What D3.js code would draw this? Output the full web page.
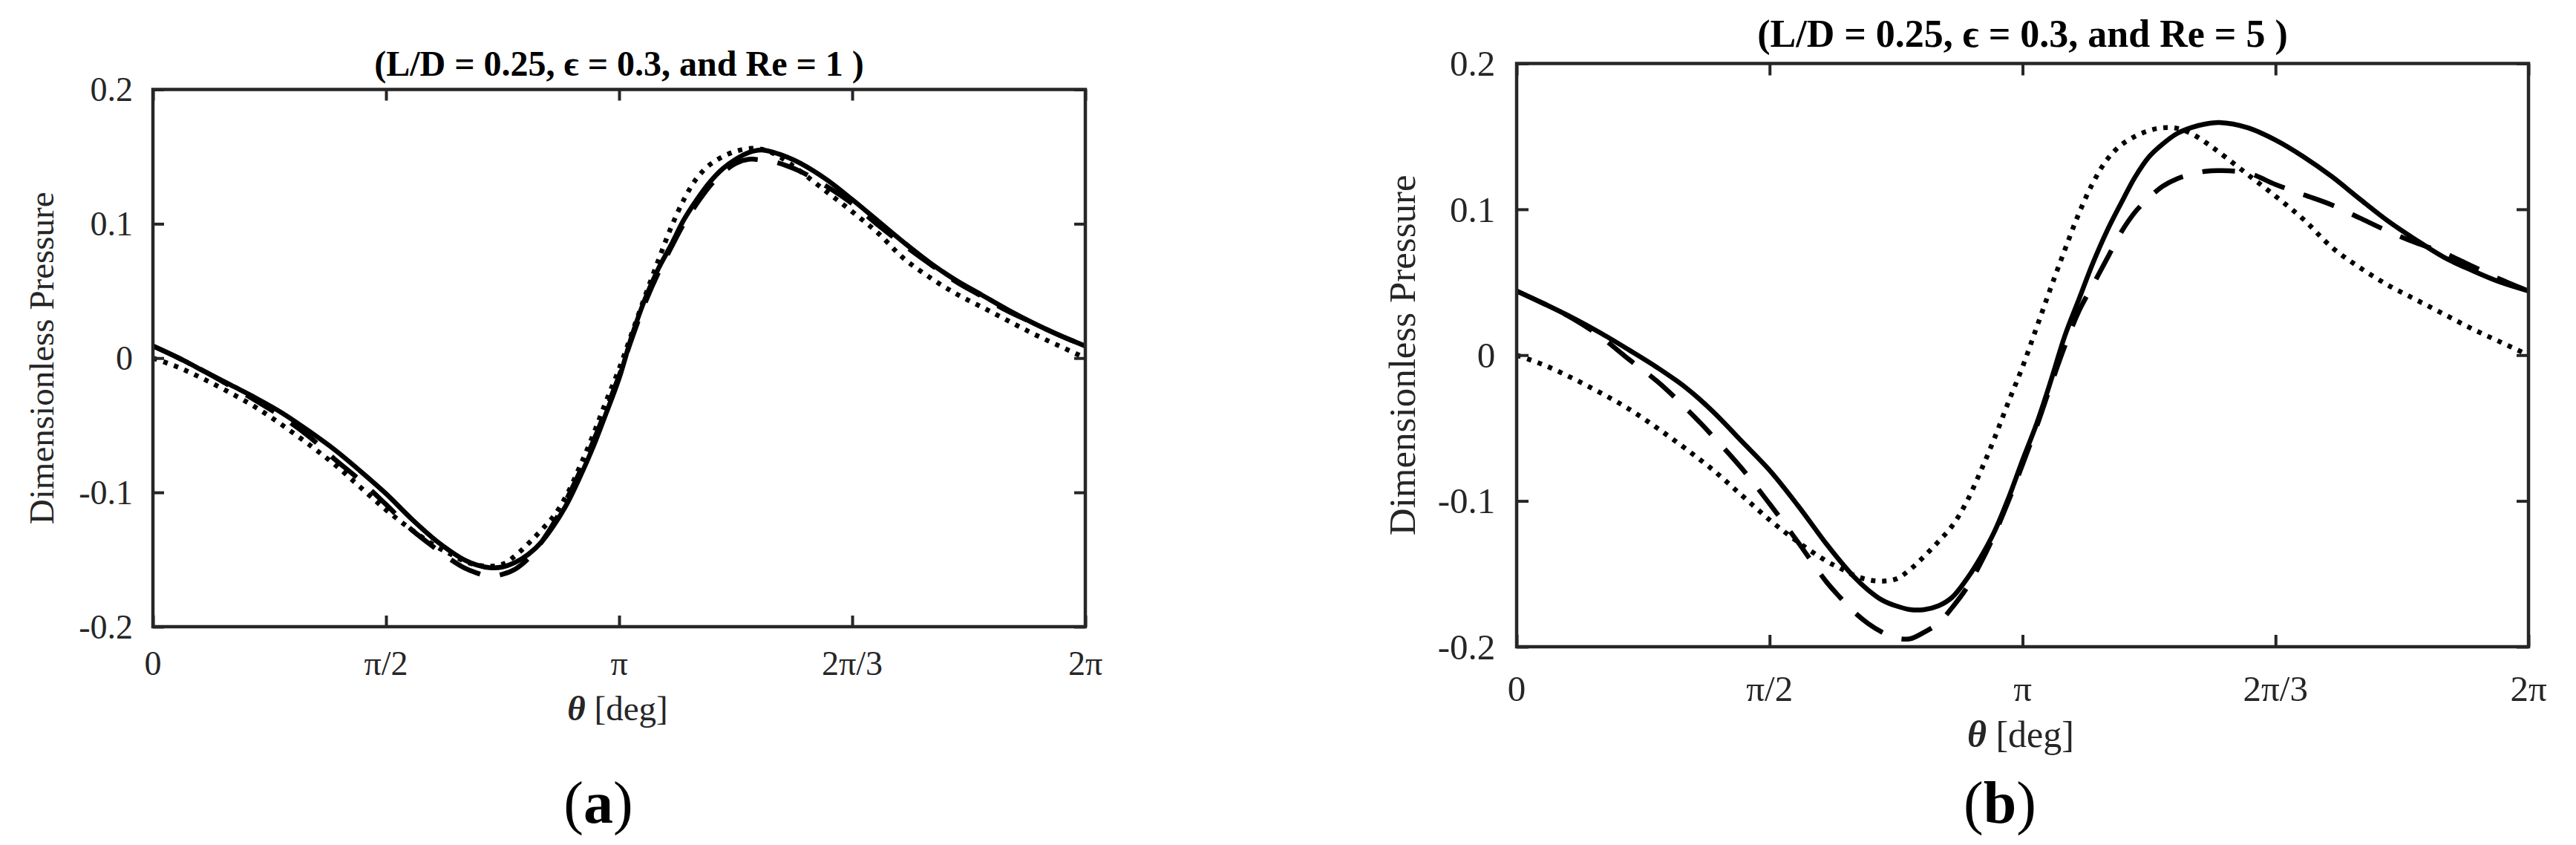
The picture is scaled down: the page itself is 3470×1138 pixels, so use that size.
<!DOCTYPE html>
<html>
<head>
<meta charset="utf-8">
<script src="https://cdn.jsdelivr.net/npm/d3@7"></script>
<style>
  html, body { margin: 0; padding: 0; background: #fff; }
  svg { display: block; }
  text { font-family: "Liberation Serif", "Times New Roman", "DejaVu Serif", serif; fill: #262626; }
</style>
</head>
<body>
<svg id="chart" width="3470" height="1138"></svg>
<script>
// ---- data (theta in degrees, dimensionless pressure) ----
const theta = [0,10,20,30,40,50,60,70,80,90,100,110,115,120,125,130,135,140,145,150,155,160,165,170,175,180,185,190,195,200,205,210,215,220,225,230,235,240,245,250,260,270,280,290,300,310,320,330,340,350,360];

// Panel (a): L/D = 0.25, eps = 0.3, Re = 1
const solidA  = [0.009,0.000,-0.010,-0.020,-0.030,-0.041,-0.054,-0.068,-0.084,-0.101,-0.120,-0.137,-0.144,-0.150,-0.154,-0.156,-0.1555,-0.152,-0.146,-0.137,-0.124,-0.108,-0.088,-0.066,-0.041,-0.015,0.017,0.044,0.066,0.084,0.103,0.118,0.131,0.141,0.148,0.153,0.155,0.153,0.1495,0.145,0.133,0.118,0.102,0.086,0.071,0.058,0.047,0.036,0.026,0.017,0.009];
const dashedA = [0.009,0.000,-0.010,-0.021,-0.032,-0.044,-0.058,-0.075,-0.091,-0.109,-0.128,-0.143,-0.150,-0.156,-0.160,-0.1625,-0.161,-0.157,-0.149,-0.137,-0.122,-0.104,-0.084,-0.062,-0.038,-0.013,0.015,0.041,0.063,0.082,0.100,0.115,0.128,0.138,0.145,0.148,0.1475,0.146,0.143,0.139,0.128,0.115,0.099,0.084,0.070,0.057,0.046,0.035,0.026,0.017,0.009];
const dottedA = [0.000,-0.007,-0.016,-0.026,-0.037,-0.050,-0.064,-0.079,-0.096,-0.113,-0.128,-0.141,-0.146,-0.151,-0.154,-0.155,-0.1535,-0.147,-0.138,-0.128,-0.117,-0.101,-0.080,-0.057,-0.032,-0.008,0.019,0.046,0.072,0.097,0.118,0.134,0.144,0.150,0.154,0.156,0.1555,0.152,0.146,0.139,0.124,0.109,0.093,0.074,0.060,0.048,0.038,0.028,0.018,0.009,0.000];

// Panel (b): L/D = 0.25, eps = 0.3, Re = 5
const solidB  = [0.044,0.035,0.0255,0.015,0.0035,-0.0085,-0.022,-0.039,-0.059,-0.079,-0.103,-0.129,-0.141,-0.152,-0.161,-0.168,-0.172,-0.1745,-0.1745,-0.172,-0.166,-0.154,-0.139,-0.121,-0.098,-0.072,-0.047,-0.018,0.013,0.038,0.063,0.085,0.104,0.122,0.136,0.145,0.152,0.156,0.1585,0.1595,0.156,0.1475,0.136,0.1225,0.107,0.092,0.079,0.067,0.058,0.050,0.044];
const dashedB = [0.044,0.035,0.025,0.0125,-0.003,-0.018,-0.036,-0.056,-0.0775,-0.102,-0.128,-0.155,-0.166,-0.176,-0.184,-0.190,-0.194,-0.1945,-0.190,-0.184,-0.173,-0.160,-0.143,-0.123,-0.100,-0.075,-0.049,-0.021,0.006,0.030,0.048,0.066,0.084,0.098,0.108,0.116,0.121,0.124,0.126,0.1265,0.125,0.117,0.110,0.103,0.094,0.085,0.077,0.070,0.061,0.052,0.044];
const dottedB = [0.000,-0.007,-0.016,-0.026,-0.037,-0.050,-0.064,-0.079,-0.096,-0.113,-0.128,-0.141,-0.146,-0.151,-0.154,-0.155,-0.1535,-0.147,-0.138,-0.128,-0.117,-0.101,-0.080,-0.057,-0.032,-0.008,0.019,0.046,0.072,0.097,0.118,0.134,0.144,0.150,0.154,0.156,0.1555,0.152,0.146,0.139,0.124,0.109,0.093,0.074,0.060,0.048,0.038,0.028,0.018,0.009,0.000];

const xTickValues = [0, 90, 180, 270, 360];
const xTickLabels = ["0", "\u03C0/2", "\u03C0", "2\u03C0/3", "2\u03C0"];
const yTickValues = [-0.2, -0.1, 0, 0.1, 0.2];
const yTickLabels = ["-0.2", "-0.1", "0", "0.1", "0.2"];

const titles = ["(L/D = 0.25, \u03F5 = 0.3, and Re = 1 )", "(L/D = 0.25, \u03F5 = 0.3, and Re = 5 )"];
const yLabel = "Dimensionless Pressure";
const panelLetters = ["a", "b"];

// ---- layout ----
const panels = [
  { left: 206, right: 1462, top: 120.5, bottom: 844, series: [solidA, dashedA, dottedA],
    fs: 46, titleFs: 48, titleY: 102, yLabX: 72, yLabFs: 47, xTickY: 909, xLabY: 970, xLabX: 832, xLabFs: 47,
    letterX: 806, letterY: 1108, tick: 15, title: titles[0], letter: panelLetters[0] },
  { left: 2043, right: 3406, top: 85.5, bottom: 871, series: [solidB, dashedB, dottedB],
    fs: 49, titleFs: 52, titleY: 63, yLabX: 1906, yLabFs: 51, xTickY: 944, xLabY: 1006, xLabX: 2722, xLabFs: 50,
    letterX: 2694, letterY: 1108, tick: 16, title: titles[1], letter: panelLetters[1] }
];

const styles = [
  { dash: null, w: 6.5 },
  { dash: "44 27", w: 6.5 },
  { dash: "6 9", w: 6.5 }
];

const svg = d3.select("#chart");

panels.forEach((p, i) => {
  const x = d3.scaleLinear().domain([0, 360]).range([p.left, p.right]);
  const y = d3.scaleLinear().domain([-0.2, 0.2]).range([p.bottom, p.top]);
  const g = svg.append("g");

  const clipId = "clip" + i;
  svg.append("clipPath").attr("id", clipId)
    .append("rect").attr("x", p.left).attr("y", p.top)
    .attr("width", p.right - p.left).attr("height", p.bottom - p.top);

  const line = d3.line().x((d, k) => x(theta[k])).y(d => y(d)).curve(d3.curveCatmullRom.alpha(0.5));

  p.series.forEach((s, k) => {
    g.append("path")
      .attr("clip-path", `url(#${clipId})`)
      .attr("d", line(s))
      .attr("fill", "none")
      .attr("stroke", "#000")
      .attr("stroke-width", styles[k].w)
      .attr("stroke-dasharray", styles[k].dash)
      .attr("stroke-linecap", "butt")
      .attr("stroke-linejoin", "round");
  });

  // ticks (inward) on all 4 sides via d3 axes
  const axStyle = sel => {
    sel.select(".domain").remove();
    sel.selectAll(".tick line").attr("stroke", "#262626").attr("stroke-width", 4);
    sel.selectAll(".tick text").remove();
  };
  g.append("g").attr("transform", `translate(0,${p.bottom})`)
    .call(d3.axisBottom(x).tickValues(xTickValues).tickSize(-p.tick)).call(axStyle);
  g.append("g").attr("transform", `translate(0,${p.top})`)
    .call(d3.axisTop(x).tickValues(xTickValues).tickSize(-p.tick)).call(axStyle);
  g.append("g").attr("transform", `translate(${p.left},0)`)
    .call(d3.axisLeft(y).tickValues(yTickValues).tickSize(-p.tick)).call(axStyle);
  g.append("g").attr("transform", `translate(${p.right},0)`)
    .call(d3.axisRight(y).tickValues(yTickValues).tickSize(-p.tick)).call(axStyle);

  // frame
  g.append("rect").attr("x", p.left).attr("y", p.top)
    .attr("width", p.right - p.left).attr("height", p.bottom - p.top)
    .attr("fill", "none").attr("stroke", "#262626").attr("stroke-width", 4.5);

  // tick labels
  g.selectAll(".xl").data(xTickValues).enter().append("text")
    .attr("x", d => x(d)).attr("y", p.xTickY)
    .attr("text-anchor", "middle").attr("font-size", p.fs)
    .text((d, k) => xTickLabels[k]);
  g.selectAll(".yl").data(yTickValues).enter().append("text")
    .attr("x", p.left - 27 * p.fs / 46).attr("y", d => y(d))
    .attr("dy", "0.34em")
    .attr("text-anchor", "end").attr("font-size", p.fs)
    .text((d, k) => yTickLabels[k]);

  // title
  g.append("text").attr("x", (p.left + p.right) / 2).attr("y", p.titleY)
    .attr("text-anchor", "middle").attr("font-size", p.titleFs).attr("font-weight", "bold")
    .style("fill", "#000")
    .text(p.title);

  // y label
  g.append("text")
    .attr("transform", `translate(${p.yLabX},${(p.top + p.bottom) / 2}) rotate(-90)`)
    .attr("text-anchor", "middle").attr("font-size", p.yLabFs)
    .text(yLabel);

  // x label
  const xl = g.append("text").attr("x", p.xLabX).attr("y", p.xLabY)
    .attr("text-anchor", "middle").attr("font-size", p.xLabFs);
  xl.append("tspan").attr("font-style", "italic").attr("font-weight", "bold").text("\u03B8");
  xl.append("tspan").text(" [deg]");

  // panel letter
  const lt = g.append("text").attr("x", p.letterX).attr("y", p.letterY)
    .attr("text-anchor", "middle").attr("font-size", 80).style("fill", "#000");
  lt.append("tspan").text("(");
  lt.append("tspan").attr("font-weight", "bold").text(p.letter);
  lt.append("tspan").text(")");
});
</script>
</body>
</html>
